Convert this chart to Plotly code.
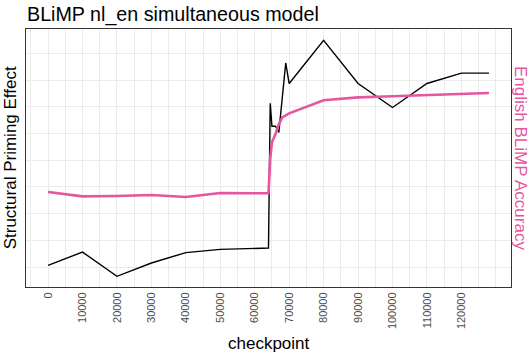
import plotly.graph_objects as go

checkpoints = [0, 10000, 20000, 30000, 40000, 50000, 64000, 64500, 65000, 66000,
               67000, 68000, 69000, 70000, 80000, 90000, 100000, 110000, 120000, 128000]
priming_effect = [0.0006, 0.0056, -0.0035, 0.0015, 0.0054, 0.0066, 0.0071, 0.0614, 0.0528, 0.0528,
                  0.0505, 0.0636, 0.0765, 0.0688, 0.0850, 0.0688, 0.0598, 0.0688, 0.0727, 0.0727]
blimp_accuracy = [0.5789, 0.5730, 0.5734, 0.5748, 0.5721, 0.5775, 0.5771, 0.6246, 0.6463, 0.6572,
                  0.6707, 0.6802, 0.6829, 0.6856, 0.7033, 0.7073, 0.7087, 0.7101, 0.7114, 0.7132]
x_ticks = list(range(0, 120001, 10000))
x_tick_labels = [str(v) for v in x_ticks]

PINK = "#e6559f"
FONT = "Liberation Sans, Arial, sans-serif"

fig = go.Figure()
fig.add_trace(go.Scatter(x=checkpoints, y=priming_effect, mode="lines",
                         line=dict(color="black", width=1.4), yaxis="y", showlegend=False))
fig.add_trace(go.Scatter(x=checkpoints, y=blimp_accuracy, mode="lines",
                         line=dict(color=PINK, width=2.6), yaxis="y2", showlegend=False))

L, R, T, B = 25.7, 21, 28.7, 65.3
W, H = 532, 352
pw, ph = W - L - R, H - T - B

fig.update_layout(
    width=W, height=H,
    margin=dict(l=L, r=R, t=T, b=B, pad=0),
    paper_bgcolor="white", plot_bgcolor="white",
    font=dict(family=FONT, color="black"),
    xaxis=dict(range=[-6400, 134400], tickmode="array", tickvals=x_ticks, ticktext=x_tick_labels,
               tickangle=-90, tickfont=dict(size=11, color="#4d4d4d"),
               showgrid=True, gridcolor="#ebebeb", gridwidth=1,
               minor=dict(dtick=5000, tick0=5000, showgrid=True, gridcolor="#ebebeb", gridwidth=1),
               showline=True, mirror=True, linecolor="#333333", linewidth=1, zeroline=False,
               ticks=""),
    yaxis=dict(range=[-0.0075, 0.08924], dtick=0.01, tick0=0, showticklabels=False,
               showgrid=True, gridcolor="#ebebeb", gridwidth=1, zeroline=False,
               showline=True, mirror=True, linecolor="#333333", linewidth=1, ticks=""),
    yaxis2=dict(range=[0.45, 0.80], overlaying="y", side="right", showticklabels=False,
                showgrid=False, zeroline=False, ticks=""),
    annotations=[
        dict(text="BLiMP nl_en simultaneous model", xref="paper", yref="paper",
             x=(26 - L) / pw, y=(H - B - 2) / ph, xanchor="left", yanchor="top",
             showarrow=False, font=dict(size=19.7, family=FONT, color="black"), borderpad=0),
        dict(text="checkpoint", xref="paper", yref="paper",
             x=0.5, y=(H - B - 343.5) / ph, xanchor="center", yanchor="middle",
             showarrow=False, font=dict(size=17, family=FONT, color="black"), borderpad=0),
        dict(text="Structural Priming Effect", xref="paper", yref="paper",
             x=(10 - L) / pw, y=0.5, xanchor="center", yanchor="middle", textangle=-90,
             showarrow=False, font=dict(size=17, family=FONT, color="black"), borderpad=0),
        dict(text="English BLiMP Accuracy", xref="paper", yref="paper",
             x=(521 - L) / pw, y=0.5, xanchor="center", yanchor="middle", textangle=90,
             showarrow=False, font=dict(size=17, family=FONT, color=PINK), borderpad=0),
    ],
)

fig.write_html("out.html",
               config={"displayModeBar": False},
               post_script="document.body.style.margin='0';document.body.style.padding='0';"
                           "document.body.style.overflow='hidden';")
